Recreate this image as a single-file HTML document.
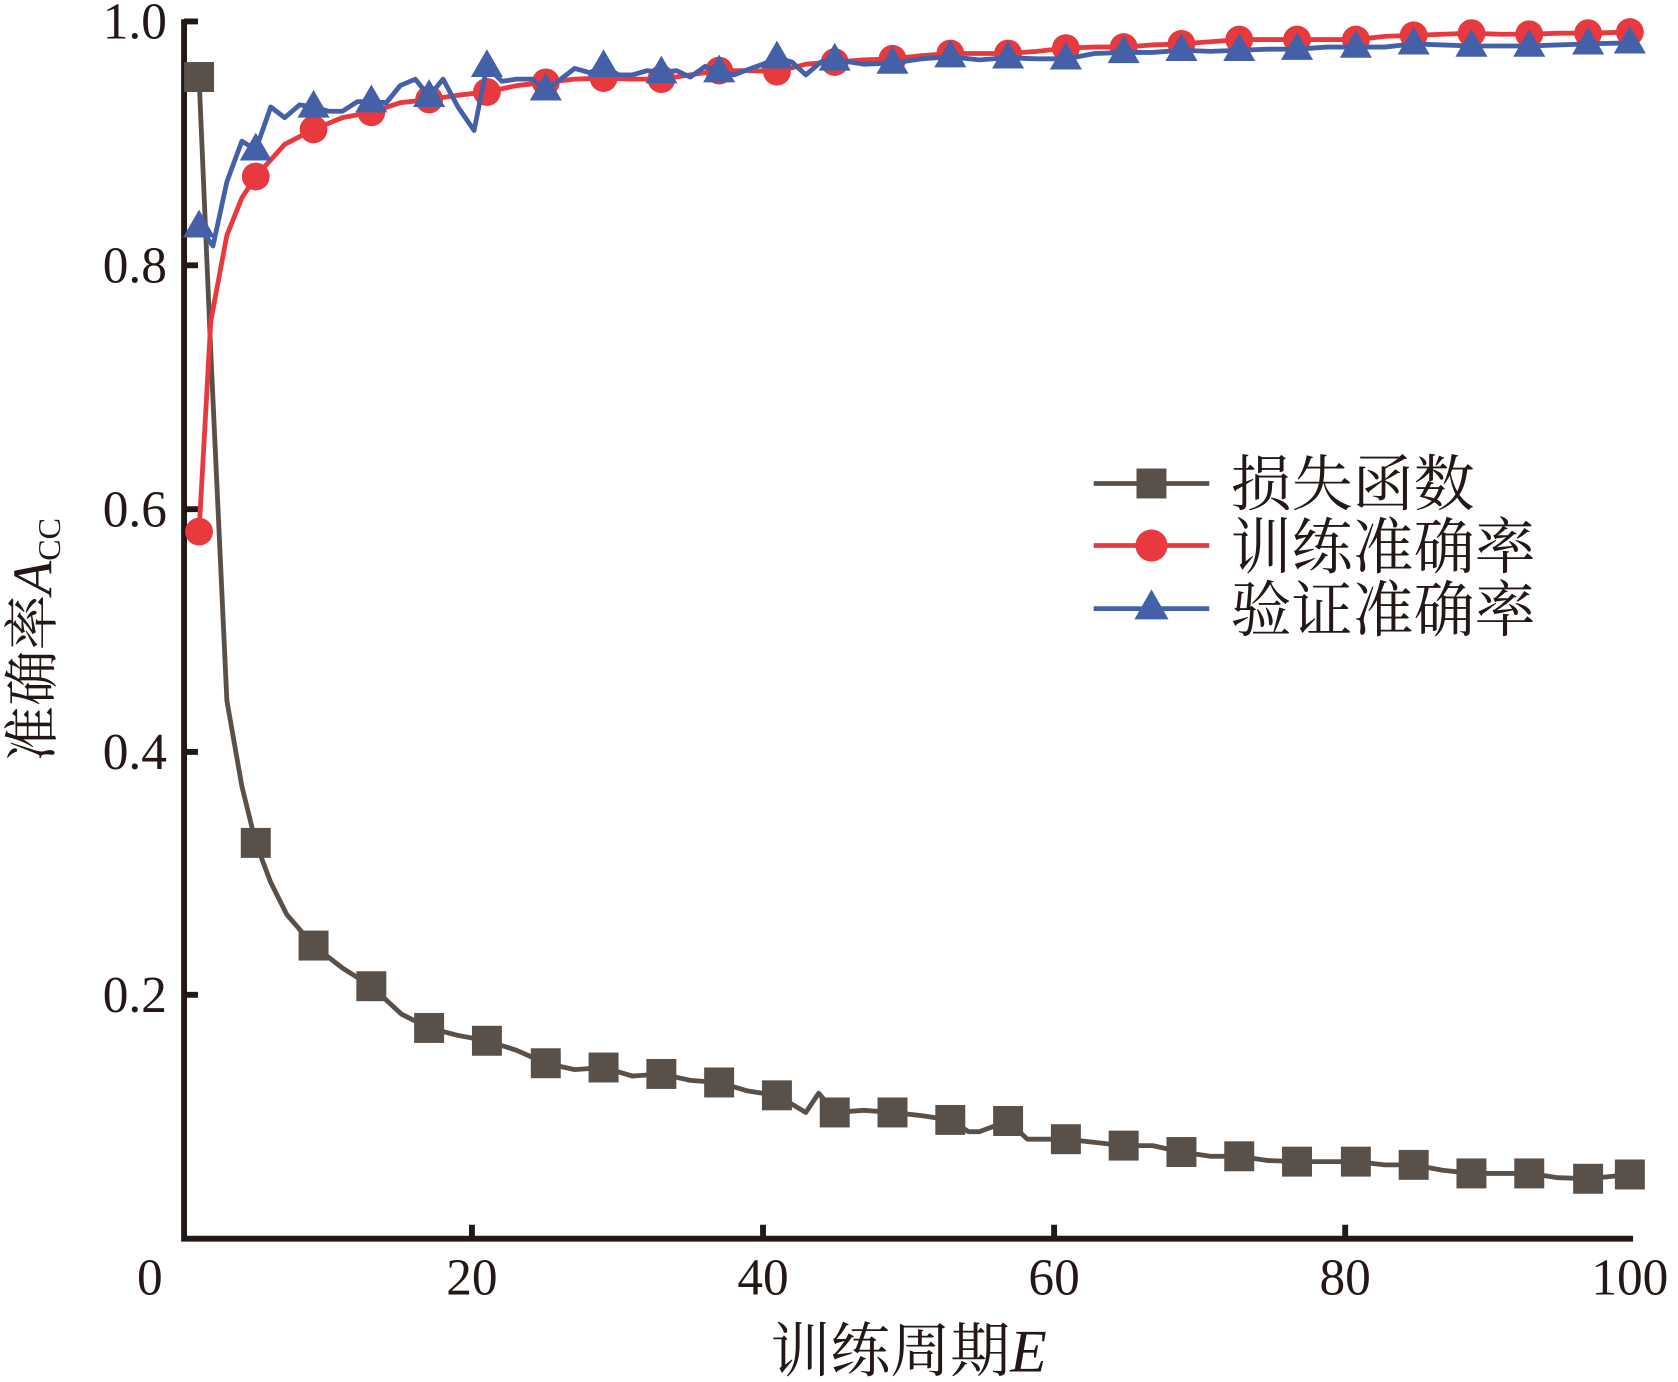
<!DOCTYPE html>
<html><head><meta charset="utf-8"><style>html,body{margin:0;padding:0;background:#fff}svg{display:block}
.n{font-family:"Liberation Serif",serif}
.c{font-family:"Liberation Serif","Noto Serif CJK SC",serif}</style></head>
<body>
<svg width="1678" height="1382" viewBox="0 0 1568 1292" preserveAspectRatio="none" xmlns="http://www.w3.org/2000/svg">
<g class="n" fill="#231815" font-size="48">
<text x="156" y="36" text-anchor="end">1.0</text>
<text x="156" y="264" text-anchor="end">0.8</text>
<text x="156" y="492" text-anchor="end">0.6</text>
<text x="156" y="719" text-anchor="end">0.4</text>
<text x="156" y="946" text-anchor="end">0.2</text>
<text x="140" y="1210" text-anchor="middle">0</text>
<text x="441" y="1210" text-anchor="middle">20</text>
<text x="713" y="1210" text-anchor="middle">40</text>
<text x="985" y="1210" text-anchor="middle">60</text>
<text x="1257" y="1210" text-anchor="middle">80</text>
<text x="1523" y="1210" text-anchor="middle">100</text>
</g>
<g fill="#231815">
<text x="720" y="1282" font-size="56" class="c">训练周期<tspan class="n" font-style="italic">E</tspan></text>
<text transform="translate(48,712) rotate(-90)" font-size="52" class="c">准确率<tspan class="n" font-style="italic">A</tspan><tspan class="n" font-size="30" dy="8">CC</tspan></text>
</g>
<g stroke="#231815" stroke-width="5.5" fill="none">
<path d="M172 18 V1158 H1526"/>
<path d="M172 20 H185 M172 248 H185 M172 476 H185 M172 703 H185 M172 930 H185"/>
<path d="M441 1158 V1145 M713 1158 V1145 M985 1158 V1145 M1257 1158 V1145"/>
</g>
<polyline fill="none" stroke="#595049" stroke-width="4.5" stroke-linejoin="round" points="186,72 197,330 212,655 226,735 239,788 253,825 268,855 293,884 320,905 347,922 375,948 401,961 428,968 455,973 483,982 510,994 537,1000 564,998 591,1006 618,1004 645,1010 672,1012 699,1020 726,1024 753,1040 765,1022 780,1040 807,1038 834,1040 861,1043 888,1047 905,1058 915,1058 942,1048 960,1065 996,1065 1023,1068 1050,1071 1077,1071 1104,1077 1131,1081 1158,1081 1185,1085 1212,1086 1240,1086 1267,1086 1294,1089 1321,1089 1348,1094 1375,1097 1402,1097 1429,1097 1456,1101 1484,1102 1523,1098"/>
<g fill="#595049">
<rect x="172" y="58" width="28" height="28"/><rect x="225" y="774" width="28" height="28"/><rect x="279" y="870" width="28" height="28"/><rect x="333" y="908" width="28" height="28"/><rect x="387" y="947" width="28" height="28"/><rect x="441" y="959" width="28" height="28"/><rect x="496" y="980" width="28" height="28"/><rect x="550" y="984" width="28" height="28"/><rect x="604" y="990" width="28" height="28"/><rect x="658" y="998" width="28" height="28"/><rect x="712" y="1010" width="28" height="28"/><rect x="766" y="1026" width="28" height="28"/><rect x="820" y="1026" width="28" height="28"/><rect x="874" y="1033" width="28" height="28"/><rect x="928" y="1034" width="28" height="28"/><rect x="982" y="1051" width="28" height="28"/><rect x="1036" y="1057" width="28" height="28"/><rect x="1090" y="1063" width="28" height="28"/><rect x="1144" y="1067" width="28" height="28"/><rect x="1198" y="1072" width="28" height="28"/><rect x="1253" y="1072" width="28" height="28"/><rect x="1307" y="1075" width="28" height="28"/><rect x="1361" y="1083" width="28" height="28"/><rect x="1415" y="1083" width="28" height="28"/><rect x="1470" y="1088" width="28" height="28"/><rect x="1509" y="1084" width="28" height="28"/>
</g>
<polyline fill="none" stroke="#e83a3e" stroke-width="4.5" stroke-linejoin="round" points="186,497 197,300 212,220 226,185 239,165 266,135 293,121 320,110 347,105 374,96 401,93 428,89 455,86 483,80 510,77 537,74 564,73 591,74 618,74 645,70 672,66 699,66 726,67 753,60 780,58 807,56 834,55 861,52 888,50 915,50 942,50 969,48 996,45 1023,44 1050,44 1077,42 1104,41 1131,39 1158,37 1185,37 1212,37 1240,37 1267,37 1294,34 1321,33 1348,32 1375,31 1402,32 1429,32 1456,31 1484,31 1523,30"/>
<g fill="#e83a3e">
<circle cx="186" cy="497" r="13"/><circle cx="239" cy="165" r="13"/><circle cx="293" cy="121" r="13"/><circle cx="347" cy="105" r="13"/><circle cx="401" cy="93" r="13"/><circle cx="455" cy="86" r="13"/><circle cx="510" cy="77" r="13"/><circle cx="564" cy="73" r="13"/><circle cx="618" cy="74" r="13"/><circle cx="672" cy="66" r="13"/><circle cx="726" cy="67" r="13"/><circle cx="780" cy="58" r="13"/><circle cx="834" cy="55" r="13"/><circle cx="888" cy="50" r="13"/><circle cx="942" cy="50" r="13"/><circle cx="996" cy="45" r="13"/><circle cx="1050" cy="44" r="13"/><circle cx="1104" cy="41" r="13"/><circle cx="1158" cy="37" r="13"/><circle cx="1212" cy="37" r="13"/><circle cx="1267" cy="37" r="13"/><circle cx="1321" cy="33" r="13"/><circle cx="1375" cy="31" r="13"/><circle cx="1429" cy="32" r="13"/><circle cx="1484" cy="31" r="13"/><circle cx="1523" cy="30" r="13"/>
</g>
<polyline fill="none" stroke="#4460a8" stroke-width="4.5" stroke-linejoin="round" points="186,212 199,230 212,170 226,132 239,140 253,100 266,110 280,98 293,100 307,104 320,104 334,95 347,95 361,96 374,80 388,74 401,90 414,74 428,100 443,122 455,62 469,76 483,74 497,74 510,84 524,74 537,64 551,68 564,62 578,70 591,70 605,66 618,68 632,66 645,72 659,62 672,67 686,70 699,65 713,60 726,54 740,58 753,70 767,58 780,56 794,58 807,60 834,59 861,55 888,53 915,56 942,54 969,55 996,55 1023,50 1050,49 1077,49 1104,47 1131,48 1158,47 1185,46 1212,46 1240,44 1267,44 1294,44 1321,41 1348,42 1375,43 1402,43 1429,43 1456,42 1484,41 1523,40"/>
<g fill="#4460a8">
<path d="M186,196 l15,26 h-30z"/><path d="M239,124 l15,26 h-30z"/><path d="M293,84 l15,26 h-30z"/><path d="M347,79 l15,26 h-30z"/><path d="M401,74 l15,26 h-30z"/><path d="M455,46 l15,26 h-30z"/><path d="M510,68 l15,26 h-30z"/><path d="M564,46 l15,26 h-30z"/><path d="M618,52 l15,26 h-30z"/><path d="M672,51 l15,26 h-30z"/><path d="M726,38 l15,26 h-30z"/><path d="M780,40 l15,26 h-30z"/><path d="M834,43 l15,26 h-30z"/><path d="M888,37 l15,26 h-30z"/><path d="M942,38 l15,26 h-30z"/><path d="M996,39 l15,26 h-30z"/><path d="M1050,33 l15,26 h-30z"/><path d="M1104,31 l15,26 h-30z"/><path d="M1158,31 l15,26 h-30z"/><path d="M1212,30 l15,26 h-30z"/><path d="M1267,28 l15,26 h-30z"/><path d="M1321,25 l15,26 h-30z"/><path d="M1375,27 l15,26 h-30z"/><path d="M1429,27 l15,26 h-30z"/><path d="M1484,25 l15,26 h-30z"/><path d="M1523,24 l15,26 h-30z"/>
</g>
<line x1="1022" y1="452" x2="1130" y2="452" stroke="#595049" stroke-width="4.5"/>
<rect x="1062" y="438" width="28" height="28" fill="#595049"/>
<line x1="1022" y1="510" x2="1130" y2="510" stroke="#e83a3e" stroke-width="4.5"/>
<circle cx="1076" cy="510" r="15" fill="#e83a3e"/>
<line x1="1022" y1="569" x2="1130" y2="569" stroke="#4460a8" stroke-width="4.5"/>
<path d="M1076,551 l16,28 h-32z" fill="#4460a8"/>
<g class="c" font-size="57" fill="#231815">
<text x="1150" y="472">损失函数</text>
<text x="1150" y="531">训练准确率</text>
<text x="1150" y="590">验证准确率</text>
</g>
</svg>
</body></html>
